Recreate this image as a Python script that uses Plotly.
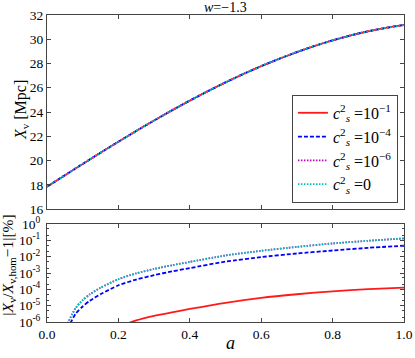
import plotly.graph_objects as go

# ---------------- data ----------------
a_top = [0.0, 0.1, 0.2, 0.3, 0.4, 0.5, 0.6, 0.7, 0.8, 0.9, 1.0]
X_v = [17.84, 19.72, 21.55, 23.30, 24.94, 26.44, 27.78, 28.94, 29.91, 30.66, 31.18]

a_rel = [0.04, 0.05, 0.06, 0.08, 0.10, 0.12, 0.15, 0.20, 0.25, 0.30, 0.35, 0.40,
         0.50, 0.60, 0.70, 0.80, 0.90, 1.00]
rel_c1 = [None, None, None, None, None, 3.2e-9, 5.0e-8, 4.5e-7, 1.26e-6, 2.4e-6, 3.9e-6,
          6.3e-6, 1.5e-5, 3.0e-5, 5.0e-5, 7.6e-5, 1.02e-4, 1.29e-4]
rel_c4 = [6.3e-9, 6.3e-8, 4.5e-7, 3.2e-6, 8.9e-6, 2.0e-5, 5.0e-5, 1.78e-4, 4.0e-4, 7.4e-4,
          1.26e-3, 2.0e-3, 5.0e-3, 9.5e-3, 1.58e-2, 2.4e-2, 3.5e-2, 4.7e-2]
rel_c6 = [3.2e-8, 2.5e-7, 1.0e-6, 7.1e-6, 2.2e-5, 5.0e-5, 1.26e-4, 4.2e-4, 9.5e-4, 1.78e-3,
          3.0e-3, 4.8e-3, 1.2e-2, 2.3e-2, 4.0e-2, 6.5e-2, 9.5e-2, 1.32e-1]
rel_c0 = [3.2e-8, 2.5e-7, 1.0e-6, 7.1e-6, 2.2e-5, 5.0e-5, 1.26e-4, 4.2e-4, 9.5e-4, 1.78e-3,
          3.0e-3, 4.8e-3, 1.2e-2, 2.3e-2, 4.0e-2, 6.5e-2, 9.5e-2, 1.32e-1]

series_names = ["<i>c</i><sup>2</sup><sub><i>s</i></sub> =10<sup>−1</sup>",
                "<i>c</i><sup>2</sup><sub><i>s</i></sub> =10<sup>−4</sup>",
                "<i>c</i><sup>2</sup><sub><i>s</i></sub> =10<sup>−6</sup>",
                "<i>c</i><sup>2</sup><sub><i>s</i></sub> =0"]
colors = ["#ff1a1a", "#0000ff", "#bf00bf", "#00bfbf"]
dashes = ["solid", "4px,2px", "1.5px,1.5px", "1.5px,1.5px"]
rel_series = [rel_c1, rel_c4, rel_c6, rel_c0]

top_ticks = [16, 18, 20, 22, 24, 26, 28, 30, 32]
x_ticks = [0.0, 0.2, 0.4, 0.6, 0.8, 1.0]
log_tickvals = [1e-6, 1e-5, 1e-4, 1e-3, 1e-2, 1e-1, 1e0]
log_ticktext = ["10<sup>-6</sup>", "10<sup>-5</sup>", "10<sup>-4</sup>", "10<sup>-3</sup>",
                "10<sup>-2</sup>", "10<sup>-1</sup>", "10<sup>0</sup>"]

FONT = "Liberation Serif"

fig = go.Figure()
for name, col, dsh in zip(series_names, colors, dashes):
    fig.add_trace(go.Scatter(x=a_top, y=X_v, mode="lines", name=name,
                             line=dict(color=col, dash=dsh, width=1.8, shape="spline"),
                             xaxis="x", yaxis="y", showlegend=True))
for name, col, dsh, ys in zip(series_names, colors, dashes, rel_series):
    fig.add_trace(go.Scatter(x=a_rel, y=ys, mode="lines", name=name,
                             line=dict(color=col, dash=dsh, width=1.8, shape="spline", smoothing=0.6),
                             xaxis="x2", yaxis="y2", showlegend=False, connectgaps=False))

axis_common = dict(showline=True, linecolor="#444", linewidth=1, mirror="ticks",
                   ticks="inside", ticklen=4, tickcolor="#444", showgrid=False,
                   zeroline=False, automargin=False,
                   tickfont=dict(family=FONT, size=13.5, color="black"))

fig.update_layout(
    width=415, height=358,
    margin=dict(l=47, r=11, t=15, b=36),
    paper_bgcolor="white", plot_bgcolor="white",
    font=dict(family=FONT, size=14, color="black"),
    xaxis=dict(domain=[0, 1], range=[0, 1], tickvals=x_ticks, showticklabels=False,
               anchor="y", **axis_common),
    yaxis=dict(domain=[0.368, 1], range=[16, 32], tickvals=top_ticks, anchor="x",
               **axis_common),
    xaxis2=dict(domain=[0, 1], range=[0, 1], tickvals=x_ticks, tickformat=".1f", anchor="y2",
                **axis_common),
    yaxis2=dict(domain=[0, 0.319], type="log", range=[-6, 0], tickvals=log_tickvals,
                ticktext=log_ticktext, anchor="x2", ticklabelstandoff=3,
                minor=dict(ticks="inside", ticklen=2, tickcolor="#444"),
                **axis_common),
    legend=dict(x=0.983, y=0.388, xanchor="right", yanchor="bottom",
                bordercolor="#444", borderwidth=1, bgcolor="white",
                font=dict(family=FONT, size=16), itemwidth=30, tracegroupgap=0),
    annotations=[
        dict(text="<i>w</i>=−1.3", x=0.5, y=1.0, xref="paper", yref="paper",
             xanchor="center", yanchor="bottom", showarrow=False, yshift=-2,
             font=dict(family=FONT, size=14)),
        dict(text="<i>a</i>", x=0.513, y=-0.068, xref="paper", yref="paper",
             xanchor="center", yanchor="middle", showarrow=False,
             font=dict(family=FONT, size=18)),
        dict(text="<i>X</i><sub>v</sub> [Mpc]", x=-0.073, y=0.69, xref="paper", yref="paper",
             xanchor="center", yanchor="middle", showarrow=False, textangle=-90,
             font=dict(family=FONT, size=16)),
        dict(text="|<i>X</i><sub>v</sub>/<i>X</i><sub>v,hom</sub>−1|[%]", x=-0.107, y=0.186,
             xref="paper", yref="paper", xanchor="center", yanchor="middle",
             showarrow=False, textangle=-90, font=dict(family=FONT, size=15.5)),
    ],
)

fig.write_html("out.html", config={"displayModeBar": False},
               post_script="document.body.style.margin='0';")
